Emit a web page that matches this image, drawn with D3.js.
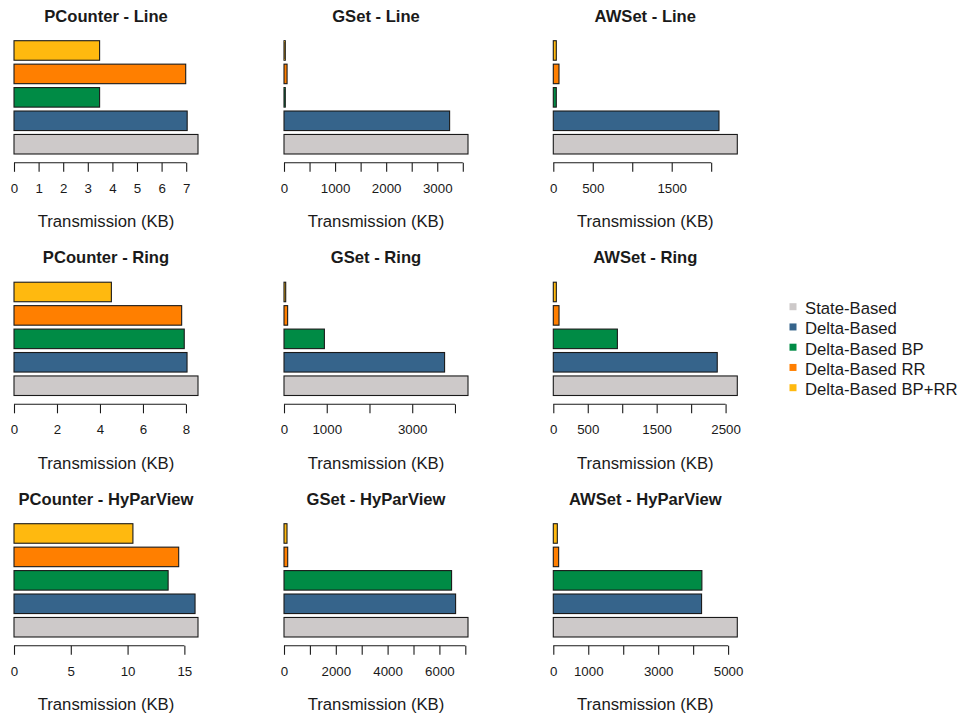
<!DOCTYPE html>
<html lang="en">
<head>
    <meta charset="UTF-8">
    <title>Transmission</title>
    <script src="https://d3js.org/d3.v7.min.js"></script>
</head>
<style>
    body { margin: 0; background: white; }
    svg { font-family: "Liberation Sans", Arial, sans-serif; }
</style>
<body>
<script>
    // bar order goes bottom to top, like R barplot(horiz = TRUE)
    const categories = ["State-Based", "Delta-Based", "Delta-Based BP", "Delta-Based RR", "Delta-Based BP+RR"];
    const colors = ["#CDC9C9", "#36648B", "#008B45", "#FF7F00", "#FFB90F"];

    const crdts = ["PCounter", "GSet", "AWSet"];
    const topologies = ["Line", "Ring", "HyParView"];

    // Transmission (KB) per panel, same order as categories
    const pcounterLine = [7.48, 7.04, 3.48, 6.98, 3.48];
    const gsetLine = [3602, 3242, 25, 60, 25];
    const awsetLine = [2331, 2099, 38, 72, 38];
    const pcounterRing = [8.56, 8.05, 7.92, 7.80, 4.53];
    const gsetRing = [4305, 3757, 945, 85, 40];
    const awsetRing = [2670, 2379, 930, 83, 44];
    const pcounterHyParView = [16.2, 15.94, 13.57, 14.5, 10.47];
    const gsetHyParView = [7104, 6625, 6470, 143, 116];
    const awsetHyParView = [5263, 4241, 4250, 153, 115];

    // tick positions and the labels R kept
    const pcounterLineTicks = [0, 1, 2, 3, 4, 5, 6, 7];
    const pcounterLineLabels = [0, 1, 2, 3, 4, 5, 6, 7];
    const gsetLineTicks = [0, 500, 1000, 1500, 2000, 2500, 3000, 3500];
    const gsetLineLabels = [0, 1000, 2000, 3000];
    const awsetLineTicks = [0, 500, 1000, 1500, 2000];
    const awsetLineLabels = [0, 500, 1500];
    const pcounterRingTicks = [0, 2, 4, 6, 8];
    const pcounterRingLabels = [0, 2, 4, 6, 8];
    const gsetRingTicks = [0, 1000, 2000, 3000, 4000];
    const gsetRingLabels = [0, 1000, 3000];
    const awsetRingTicks = [0, 500, 1000, 1500, 2000, 2500];
    const awsetRingLabels = [0, 500, 1500, 2500];
    const pcounterHyParViewTicks = [0, 5, 10, 15];
    const pcounterHyParViewLabels = [0, 5, 10, 15];
    const gsetHyParViewTicks = [0, 1000, 2000, 3000, 4000, 5000, 6000, 7000];
    const gsetHyParViewLabels = [0, 2000, 4000, 6000];
    const awsetHyParViewTicks = [0, 1000, 2000, 3000, 4000, 5000];
    const awsetHyParViewLabels = [0, 1000, 3000, 5000];

    const panels = [
        [pcounterLine, pcounterLineTicks, pcounterLineLabels],
        [gsetLine, gsetLineTicks, gsetLineLabels],
        [awsetLine, awsetLineTicks, awsetLineLabels],
        [pcounterRing, pcounterRingTicks, pcounterRingLabels],
        [gsetRing, gsetRingTicks, gsetRingLabels],
        [awsetRing, awsetRingTicks, awsetRingLabels],
        [pcounterHyParView, pcounterHyParViewTicks, pcounterHyParViewLabels],
        [gsetHyParView, gsetHyParViewTicks, gsetHyParViewLabels],
        [awsetHyParView, awsetHyParViewTicks, awsetHyParViewLabels]
    ];

    const svg = d3.select("body")
            .append("svg")
            .attr("width", 961)
            .attr("height", 718);

    const colX = [14, 284, 553.3];
    const rowY = [0, 241.5, 483];
    const barWidth = 184;

    panels.forEach((p, i) => {
        const values = p[0], ticks = p[1], labels = p[2];
        const col = i % 3, row = Math.floor(i / 3);
        const x0 = colX[col], oy = rowY[row];

        const x = d3.scaleLinear()
                .domain([0, d3.max(values)])
                .range([x0, x0 + barWidth]);
        // top band is the last category
        const y = d3.scaleBand()
                .domain(categories.slice().reverse())
                .range([oy + 36.8, oy + 157.9])
                .padding(1 / 6);

        const g = svg.append("g");

        g.selectAll("rect")
                .data(values)
                .join("rect")
                .attr("x", x(0))
                .attr("y", (d, j) => y(categories[j]))
                .attr("width", d => x(d) - x(0))
                .attr("height", y.bandwidth())
                .attr("fill", (d, j) => colors[j])
                .attr("stroke", "#1a1a1a")
                .attr("stroke-width", 1.1);

        const axis = d3.axisBottom(x)
                .tickValues(ticks)
                .tickSize(9)
                .tickSizeOuter(0)
                .tickFormat(d => labels.includes(d) ? d : "");

        const ax = g.append("g")
                .attr("transform", `translate(0,${oy + 162.8})`)
                .call(axis);
        ax.select(".domain").remove();
        ax.append("line")
                .attr("x1", x(ticks[0]))
                .attr("x2", x(ticks[ticks.length - 1]))
                .attr("stroke", "#1a1a1a")
                .attr("stroke-width", 1.1);
        ax.selectAll(".tick line").attr("stroke", "#1a1a1a").attr("stroke-width", 1.1);
        ax.selectAll(".tick text")
                .attr("y", 30)
                .attr("dy", null)
                .attr("font-size", 13.3)
                .attr("font-family", "Liberation Sans, Arial, sans-serif")
                .attr("fill", "#1a1a1a");

        g.append("text")
                .attr("x", x0 + 92)
                .attr("y", oy + 21.7)
                .attr("text-anchor", "middle")
                .attr("font-size", 16.6)
                .attr("font-weight", "bold")
                .attr("fill", "#1a1a1a")
                .text(crdts[col] + " - " + topologies[row]);

        g.append("text")
                .attr("x", x0 + 92)
                .attr("y", oy + 227)
                .attr("text-anchor", "middle")
                .attr("font-size", 16.7)
                .attr("fill", "#1a1a1a")
                .text("Transmission (KB)");
    });

    // legend
    const legend = svg.append("g");
    categories.forEach((c, i) => {
        const by = 314 + i * 20.25;
        legend.append("rect")
                .attr("x", 789.5)
                .attr("y", by - 10.8)
                .attr("width", 7)
                .attr("height", 7)
                .attr("fill", colors[i]);
        legend.append("text")
                .attr("x", 805)
                .attr("y", by)
                .attr("font-size", 16.7)
                .attr("fill", "#1a1a1a")
                .text(c);
    });
</script>
</body>
</html>
